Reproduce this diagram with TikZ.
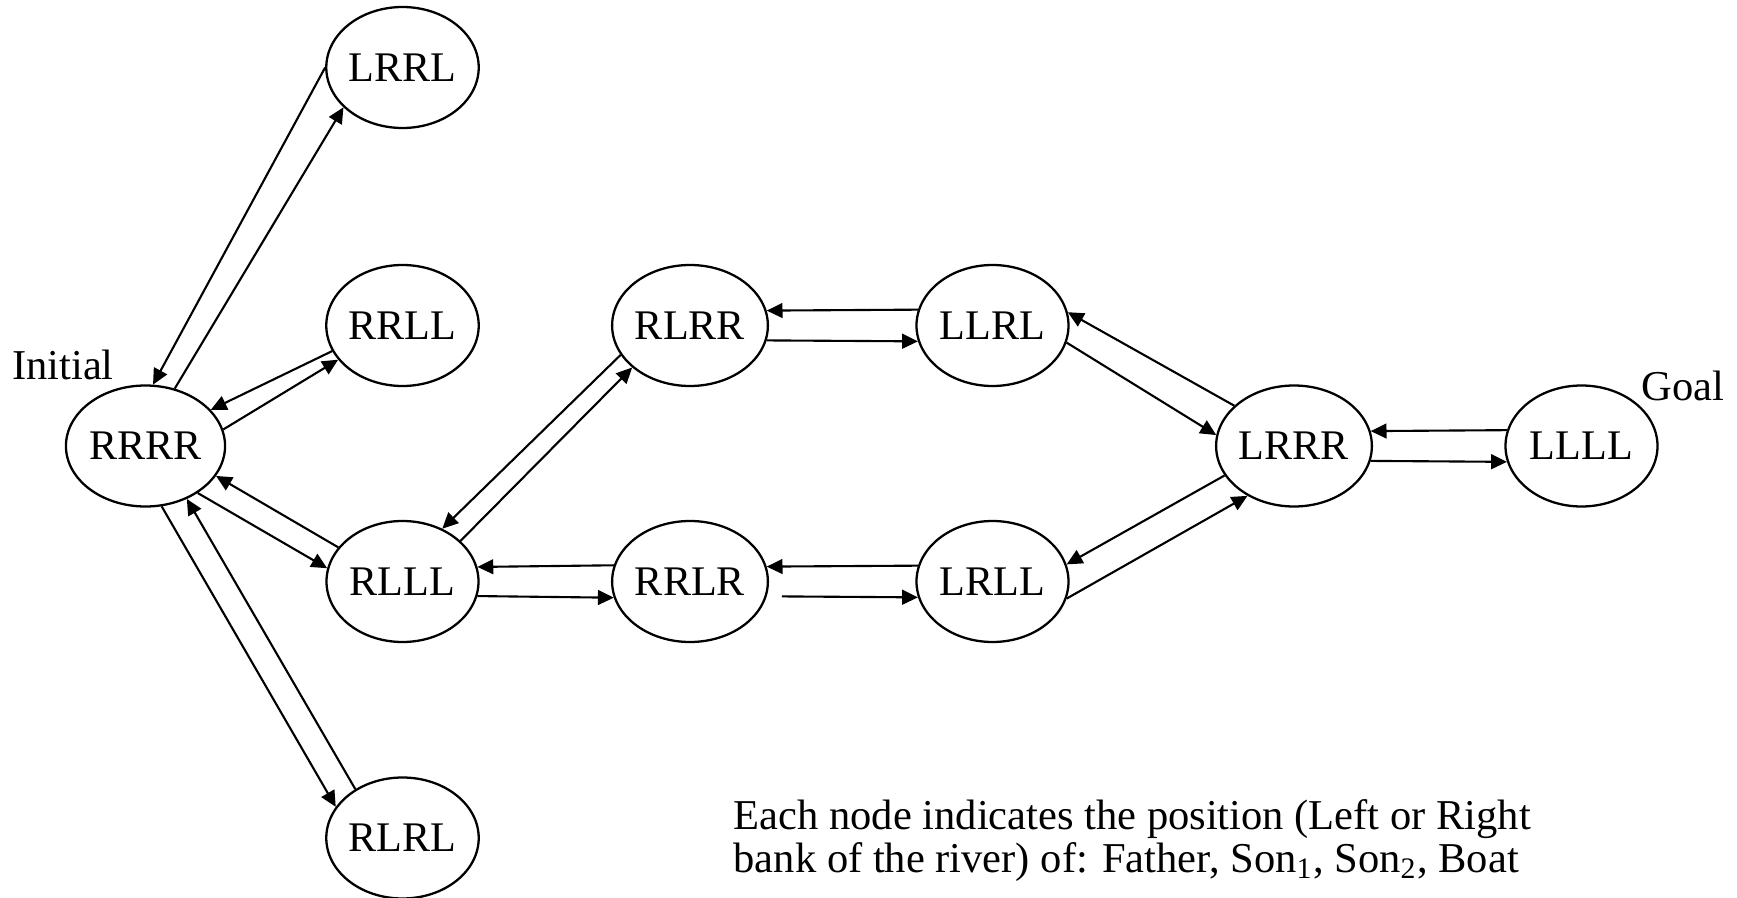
\documentclass[tikz,border=0pt]{standalone}
\usepackage{fontspec}
\setmainfont{Liberation Serif}
\usetikzlibrary{arrows.meta,shapes.geometric}

\begin{document}
\begin{tikzpicture}[
    statenode/.style={draw, ellipse, line width=0.65pt, minimum width=1.52cm,
      minimum height=1.21cm, inner sep=0pt, font=\fontsize{12}{12}\selectfont},
    crossing/.style={-{Triangle[length=4.5pt,width=4.2pt]}, line width=0.6pt},
    plain/.style={inner sep=0pt, font=\fontsize{12.1}{12}\selectfont}]

    \useasboundingbox (0,0) rectangle (17.37,-8.98);

    \node[statenode] (LRRL) at (4.025,-0.675) {LRRL};
    \node[statenode] (RRLL) at (4.025,-3.255) {RRLL};
    \node[statenode] (RRRR) at (1.455,-4.46) {RRRR};
    \node[statenode] (RLLL) at (4.025,-5.815) {RLLL};
    \node[statenode] (RLRL) at (4.025,-8.38) {RLRL};
    \node[statenode] (RLRR) at (6.90,-3.255) {RLRR};
    \node[statenode] (LLRL) at (9.925,-3.255) {LLRL};
    \node[statenode] (RRLR) at (6.90,-5.815) {RRLR};
    \node[statenode] (LRLL) at (9.925,-5.815) {LRLL};
    \node[statenode] (LRRR) at (12.94,-4.46) {LRRR};
    \node[statenode] (LLLL) at (15.815,-4.46) {LLLL};

    \node[plain] (initial) at (0.63,-3.65) {Initial};
    \node[plain] (goal) at (16.83,-3.86) {Goal};
    \node[plain, anchor=base west, align=left] (legend) at (7.33,-8.72)
      {Each node indicates the position (Left or Right\\
       bank of the river) of: Father, Son\textsubscript{1}, Son\textsubscript{2}, Boat};

    \draw[crossing] (LRRL.180) -- (RRRR.83);
    \draw[crossing] (RRRR.63) -- (LRRL.214);
    \draw[crossing] (RRLL.200) -- (RRRR.29);
    \draw[crossing] (RRRR.12) -- (RRLL.208);
    \draw[crossing] (RLLL.152) -- (RRRR.-23);
    \draw[crossing] (RRRR.-42) -- (RLLL.170);
    \draw[crossing] (RRRR.-75) -- (RLRL.155);
    \draw[crossing] (RLRL.134) -- (RRRR.-52);

    \draw[crossing] (RLRR.203) -- (RLLL.53);
    \draw[crossing] (RLLL.35) -- (RLRR.216);
    \draw[crossing] (RRLR.168.5) -- (RLLL.11.5);
    \draw[crossing] (RLLL.-11.5) -- (RRLR.-168.5);

    \draw[crossing] (LLRL.168.5) -- (RLRR.11.5);
    \draw[crossing] (RLRR.-11.5) -- (LLRL.-168.5);
    \draw[crossing] (LRLL.168.5) -- (RRLR.11.5);
    \draw[crossing] ([xshift=4.3pt]RRLR.-11.5) -- (LRLL.-168.5);

    \draw[crossing] (LRRR.146) -- (LLRL.10);
    \draw[crossing] (LLRL.-13) -- (LRRR.172);
    \draw[crossing] (LRRR.203) -- (LRLL.13);
    \draw[crossing] (LRLL.-13) -- (LRRR.227);

    \draw[crossing] (LLLL.168.5) -- (LRRR.11.5);
    \draw[crossing] (LRRR.-11.5) -- (LLLL.-168.5);
\end{tikzpicture}
\end{document}
